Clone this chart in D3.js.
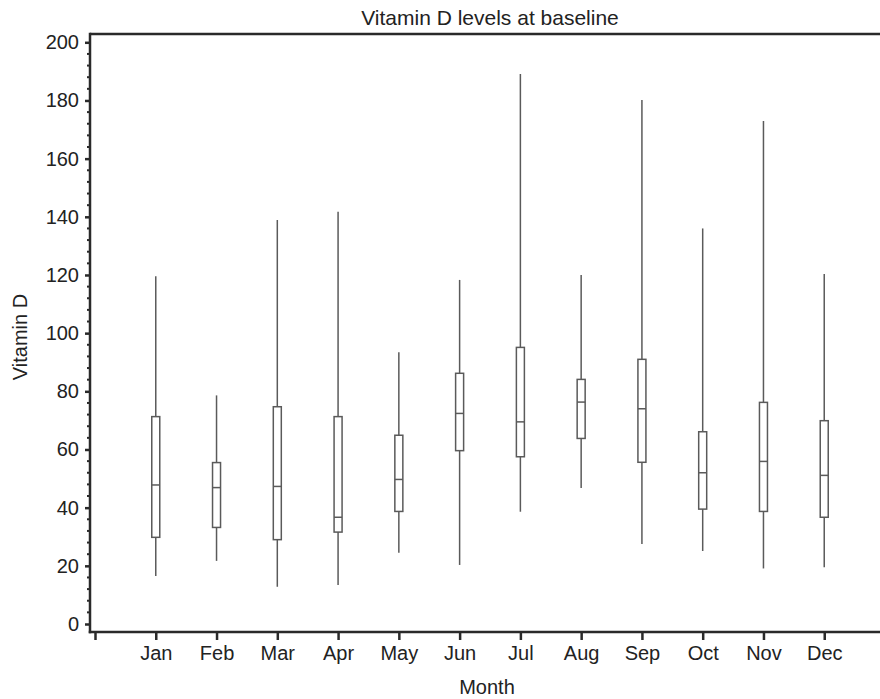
<!DOCTYPE html>
<html>
<head>
<meta charset="utf-8">
<script src="https://cdn.jsdelivr.net/npm/d3@7"></script>
<style>
  html, body { margin: 0; padding: 0; background: #fff; }
  svg { display: block; font-family: "Liberation Sans", Arial, Helvetica, sans-serif; }
</style>
</head>
<body>
<svg id="chart" width="880" height="699"></svg>
<script>
const months = ["Jan","Feb","Mar","Apr","May","Jun","Jul","Aug","Sep","Oct","Nov","Dec"];
const whiskerLow  = [16.5, 21.7, 12.8, 13.4, 24.5, 20.3, 38.6, 46.8, 27.5, 25.1, 19.1, 19.5];
const q1          = [29.8, 33.2, 29.0, 31.6, 38.7, 59.6, 57.5, 63.8, 55.6, 39.5, 38.7, 36.7];
const medians     = [47.8, 46.9, 47.3, 36.7, 49.7, 72.4, 69.5, 76.3, 74.0, 52.0, 55.9, 51.1];
const q3          = [71.3, 55.5, 74.7, 71.3, 64.9, 86.2, 95.1, 84.1, 91.0, 66.1, 76.2, 69.9];
const whiskerHigh = [119.6, 78.6, 138.9, 141.7, 93.4, 118.3, 189.1, 120.0, 180.2, 136.0, 172.9, 120.3];
const yTicks = [0, 20, 40, 60, 80, 100, 120, 140, 160, 180, 200];

const svg = d3.select("#chart");
const plotLeft = 90, plotTop = 34, plotBottom = 632, plotRight = 880;

const x = d3.scaleLinear().domain([0, 13]).range([95, 885]);
const y = d3.scaleLinear().domain([0, 200]).range([624, 42.3]);

const axisColor = "#2a2a2a";
const boxColor = "#5a5a5a";

// top frame line
svg.append("line").attr("x1", plotLeft).attr("x2", plotRight).attr("y1", plotTop).attr("y2", plotTop)
  .attr("stroke", axisColor).attr("stroke-width", 2.5);

// Y axis
const yAxis = d3.axisLeft(y).tickValues(yTicks).tickSize(5).tickPadding(6);
const gy = svg.append("g").attr("transform", `translate(${plotLeft},0)`).call(yAxis);
gy.select(".domain").remove();
gy.selectAll(".tick line").attr("stroke", axisColor).attr("stroke-width", 2.5);
gy.selectAll(".tick text").attr("font-size", 20).attr("fill", "#222")
  .attr("font-family", "'Liberation Sans', Arial, sans-serif");
// minor ticks
const minor = d3.range(0, 201, 4).filter(v => v % 20 !== 0);
svg.append("g").selectAll("line").data(minor).join("line")
  .attr("x1", plotLeft - 3).attr("x2", plotLeft).attr("y1", d => y(d)).attr("y2", d => y(d))
  .attr("stroke", axisColor).attr("stroke-width", 2);
svg.append("line").attr("x1", plotLeft).attr("x2", plotLeft).attr("y1", plotTop - 1.25).attr("y2", plotBottom + 1.25)
  .attr("stroke", axisColor).attr("stroke-width", 2.5);

// X axis
const xAxis = d3.axisBottom(x).tickValues(d3.range(0, 13)).tickSize(8).tickPadding(6)
  .tickFormat(k => k === 0 ? "" : months[k - 1]);
const gx = svg.append("g").attr("transform", `translate(0,${plotBottom})`).call(xAxis);
gx.select(".domain").remove();
gx.selectAll(".tick line").attr("stroke", axisColor).attr("stroke-width", 2.5);
gx.selectAll(".tick text").attr("font-size", 20).attr("fill", "#222")
  .attr("font-family", "'Liberation Sans', Arial, sans-serif");
svg.append("line").attr("x1", plotLeft - 1.25).attr("x2", plotRight).attr("y1", plotBottom).attr("y2", plotBottom)
  .attr("stroke", axisColor).attr("stroke-width", 2.5);

// boxes
const data = months.map((m, i) => ({
  k: i + 1, lo: whiskerLow[i], q1: q1[i], med: medians[i], q3: q3[i], hi: whiskerHigh[i]
}));
const boxW = 8;
const g = svg.append("g");
const bx = g.selectAll("g.box").data(data).join("g").attr("class", "box");
bx.append("line").attr("x1", d => x(d.k)).attr("x2", d => x(d.k))
  .attr("y1", d => y(d.hi)).attr("y2", d => y(d.q3))
  .attr("stroke", boxColor).attr("stroke-width", 1.5);
bx.append("line").attr("x1", d => x(d.k)).attr("x2", d => x(d.k))
  .attr("y1", d => y(d.q1)).attr("y2", d => y(d.lo))
  .attr("stroke", boxColor).attr("stroke-width", 1.5);
bx.append("rect").attr("x", d => x(d.k) - boxW / 2).attr("width", boxW)
  .attr("y", d => y(d.q3)).attr("height", d => y(d.q1) - y(d.q3))
  .attr("fill", "none").attr("stroke", boxColor).attr("stroke-width", 1.5);
bx.append("line").attr("x1", d => x(d.k) - boxW / 2).attr("x2", d => x(d.k) + boxW / 2)
  .attr("y1", d => y(d.med)).attr("y2", d => y(d.med))
  .attr("stroke", boxColor).attr("stroke-width", 1.5);

// title and labels
svg.append("text").attr("x", 490).attr("y", 25).attr("text-anchor", "middle")
  .attr("font-size", 21).attr("fill", "#222").text("Vitamin D levels at baseline");
svg.append("text").attr("x", 487).attr("y", 694).attr("text-anchor", "middle")
  .attr("font-size", 20).attr("fill", "#222").text("Month");
svg.append("text").attr("transform", "translate(27,337) rotate(-90)").attr("text-anchor", "middle")
  .attr("font-size", 20).attr("fill", "#222").text("Vitamin D");
</script>
</body>
</html>
